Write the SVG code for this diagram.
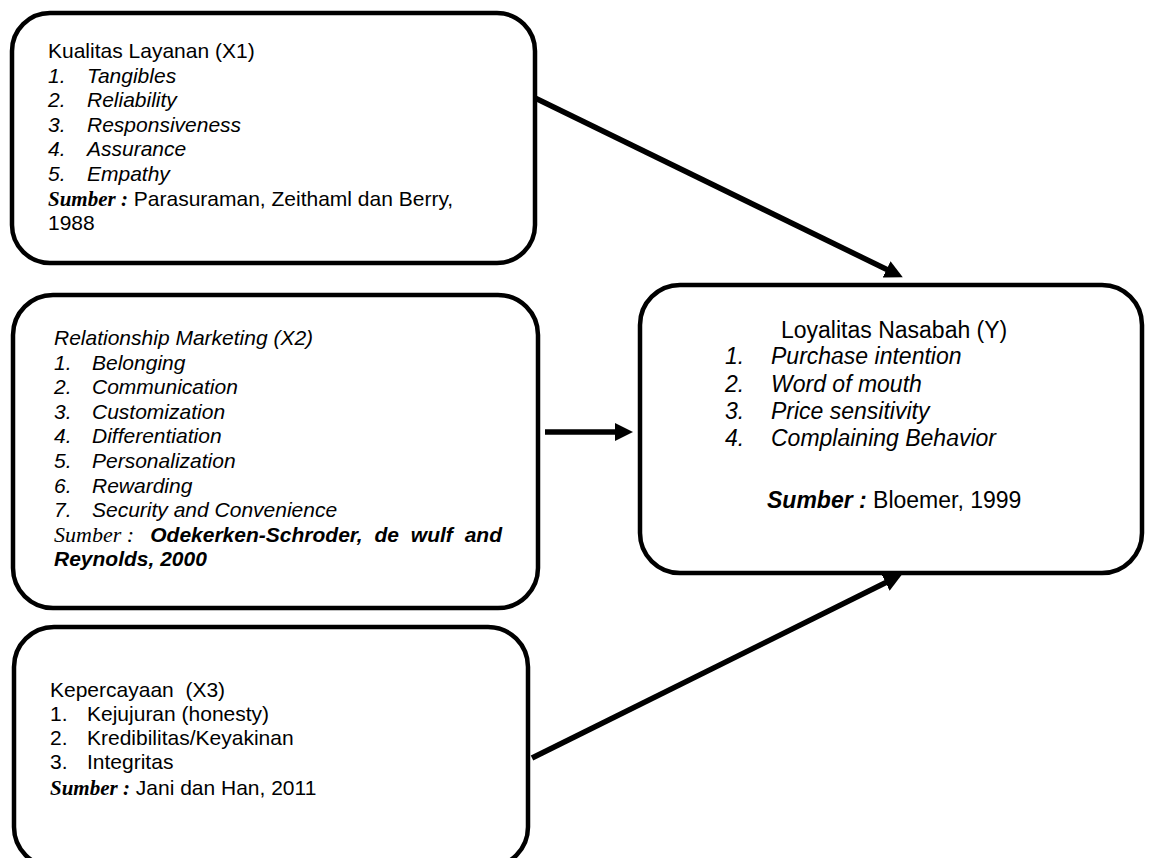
<svg xmlns="http://www.w3.org/2000/svg" width="1166" height="858" viewBox="0 0 1166 858">
<defs>
<style>
.box{fill:#fff;stroke:#000;stroke-width:4.5}
.t{font-family:"Liberation Sans",Arial,sans-serif;font-size:21px;fill:#000}
.ty{font-family:"Liberation Sans",Arial,sans-serif;font-size:23px;fill:#000}
.i{font-style:italic}
.b{font-weight:bold}
.src{font-family:"Liberation Serif","Times New Roman",serif;font-style:italic;font-weight:bold}
.srcn{font-family:"Liberation Serif","Times New Roman",serif;font-style:italic;font-size:22px}
.con{stroke:#000;stroke-width:5.5;fill:none;marker-end:url(#ah)}
</style>
<marker id="ah" markerUnits="userSpaceOnUse" markerWidth="18" markerHeight="18" refX="6" refY="9" orient="auto">
<path d="M0,0 L18,9 L0,18 z" fill="#000"/>
</marker>
</defs>
<rect width="1166" height="858" fill="#fff"/>

<g id="connectors">
<line class="con" x1="533" y1="97" x2="892" y2="272"/>
<line class="con" x1="545" y1="432" x2="621" y2="432"/>
<line class="con" x1="532" y1="758" x2="891" y2="580"/>
</g>

<g id="node-x1">
<rect class="box" x="12" y="13" width="523" height="250" rx="38"/>
<text class="t" x="48" y="58">Kualitas Layanan (X1)</text>
<text class="t i" x="48" y="82.6">1.</text><text class="t i" x="87" y="82.6">Tangibles</text>
<text class="t i" x="48" y="107.2">2.</text><text class="t i" x="87" y="107.2">Reliability</text>
<text class="t i" x="48" y="131.8">3.</text><text class="t i" x="87" y="131.8">Responsiveness</text>
<text class="t i" x="48" y="156.4">4.</text><text class="t i" x="87" y="156.4">Assurance</text>
<text class="t i" x="48" y="181">5.</text><text class="t i" x="87" y="181">Empathy</text>
<text class="t" x="48" y="205.6"><tspan class="src">Sumber :</tspan> Parasuraman, Zeithaml dan Berry,</text>
<text class="t" x="48" y="230.2">1988</text>
</g>

<g id="node-x2">
<rect class="box" x="13" y="295" width="525" height="313" rx="40"/>
<text class="t i" x="54" y="345">Relationship Marketing (X2)</text>
<text class="t i" x="54" y="369.6">1.</text><text class="t i" x="92" y="369.6">Belonging</text>
<text class="t i" x="54" y="394.2">2.</text><text class="t i" x="92" y="394.2">Communication</text>
<text class="t i" x="54" y="418.8">3.</text><text class="t i" x="92" y="418.8">Customization</text>
<text class="t i" x="54" y="443.4">4.</text><text class="t i" x="92" y="443.4">Differentiation</text>
<text class="t i" x="54" y="468">5.</text><text class="t i" x="92" y="468">Personalization</text>
<text class="t i" x="54" y="492.6">6.</text><text class="t i" x="92" y="492.6">Rewarding</text>
<text class="t i" x="54" y="517.2">7.</text><text class="t i" x="92" y="517.2">Security and Convenience</text>
<text class="t srcn" x="54" y="541.8">Sumber :</text>
<text class="t i b" x="502" y="541.8" text-anchor="end" style="word-spacing:6px">Odekerken-Schroder, de wulf and</text>
<text class="t i b" x="54" y="566.4">Reynolds, 2000</text>
</g>

<g id="node-x3">
<rect class="box" x="14" y="627" width="514" height="240" rx="40"/>
<text class="t" x="50" y="697" xml:space="preserve">Kepercayaan  (X3)</text>
<text class="t" x="50" y="720.5">1.</text><text class="t" x="87" y="720.5">Kejujuran (honesty)</text>
<text class="t" x="50" y="745">2.</text><text class="t" x="87" y="745">Kredibilitas/Keyakinan</text>
<text class="t" x="50" y="769">3.</text><text class="t" x="87" y="769">Integritas</text>
<text class="t" x="50" y="795"><tspan class="src">Sumber :</tspan> Jani dan Han, 2011</text>
</g>

<g id="node-y">
<rect class="box" x="640" y="285" width="502" height="288" rx="40"/>
<text class="ty" x="781" y="337.5">Loyalitas Nasabah (Y)</text>
<text class="ty i" x="725" y="364">1.</text><text class="ty i" x="771" y="364">Purchase intention</text>
<text class="ty i" x="725" y="392">2.</text><text class="ty i" x="771" y="392">Word of mouth</text>
<text class="ty i" x="725" y="419">3.</text><text class="ty i" x="771" y="419">Price sensitivity</text>
<text class="ty i" x="725" y="446">4.</text><text class="ty i" x="771" y="446">Complaining Behavior</text>
<text class="ty" x="767" y="508"><tspan class="i b">Sumber :</tspan> Bloemer, 1999</text>
</g>
</svg>
